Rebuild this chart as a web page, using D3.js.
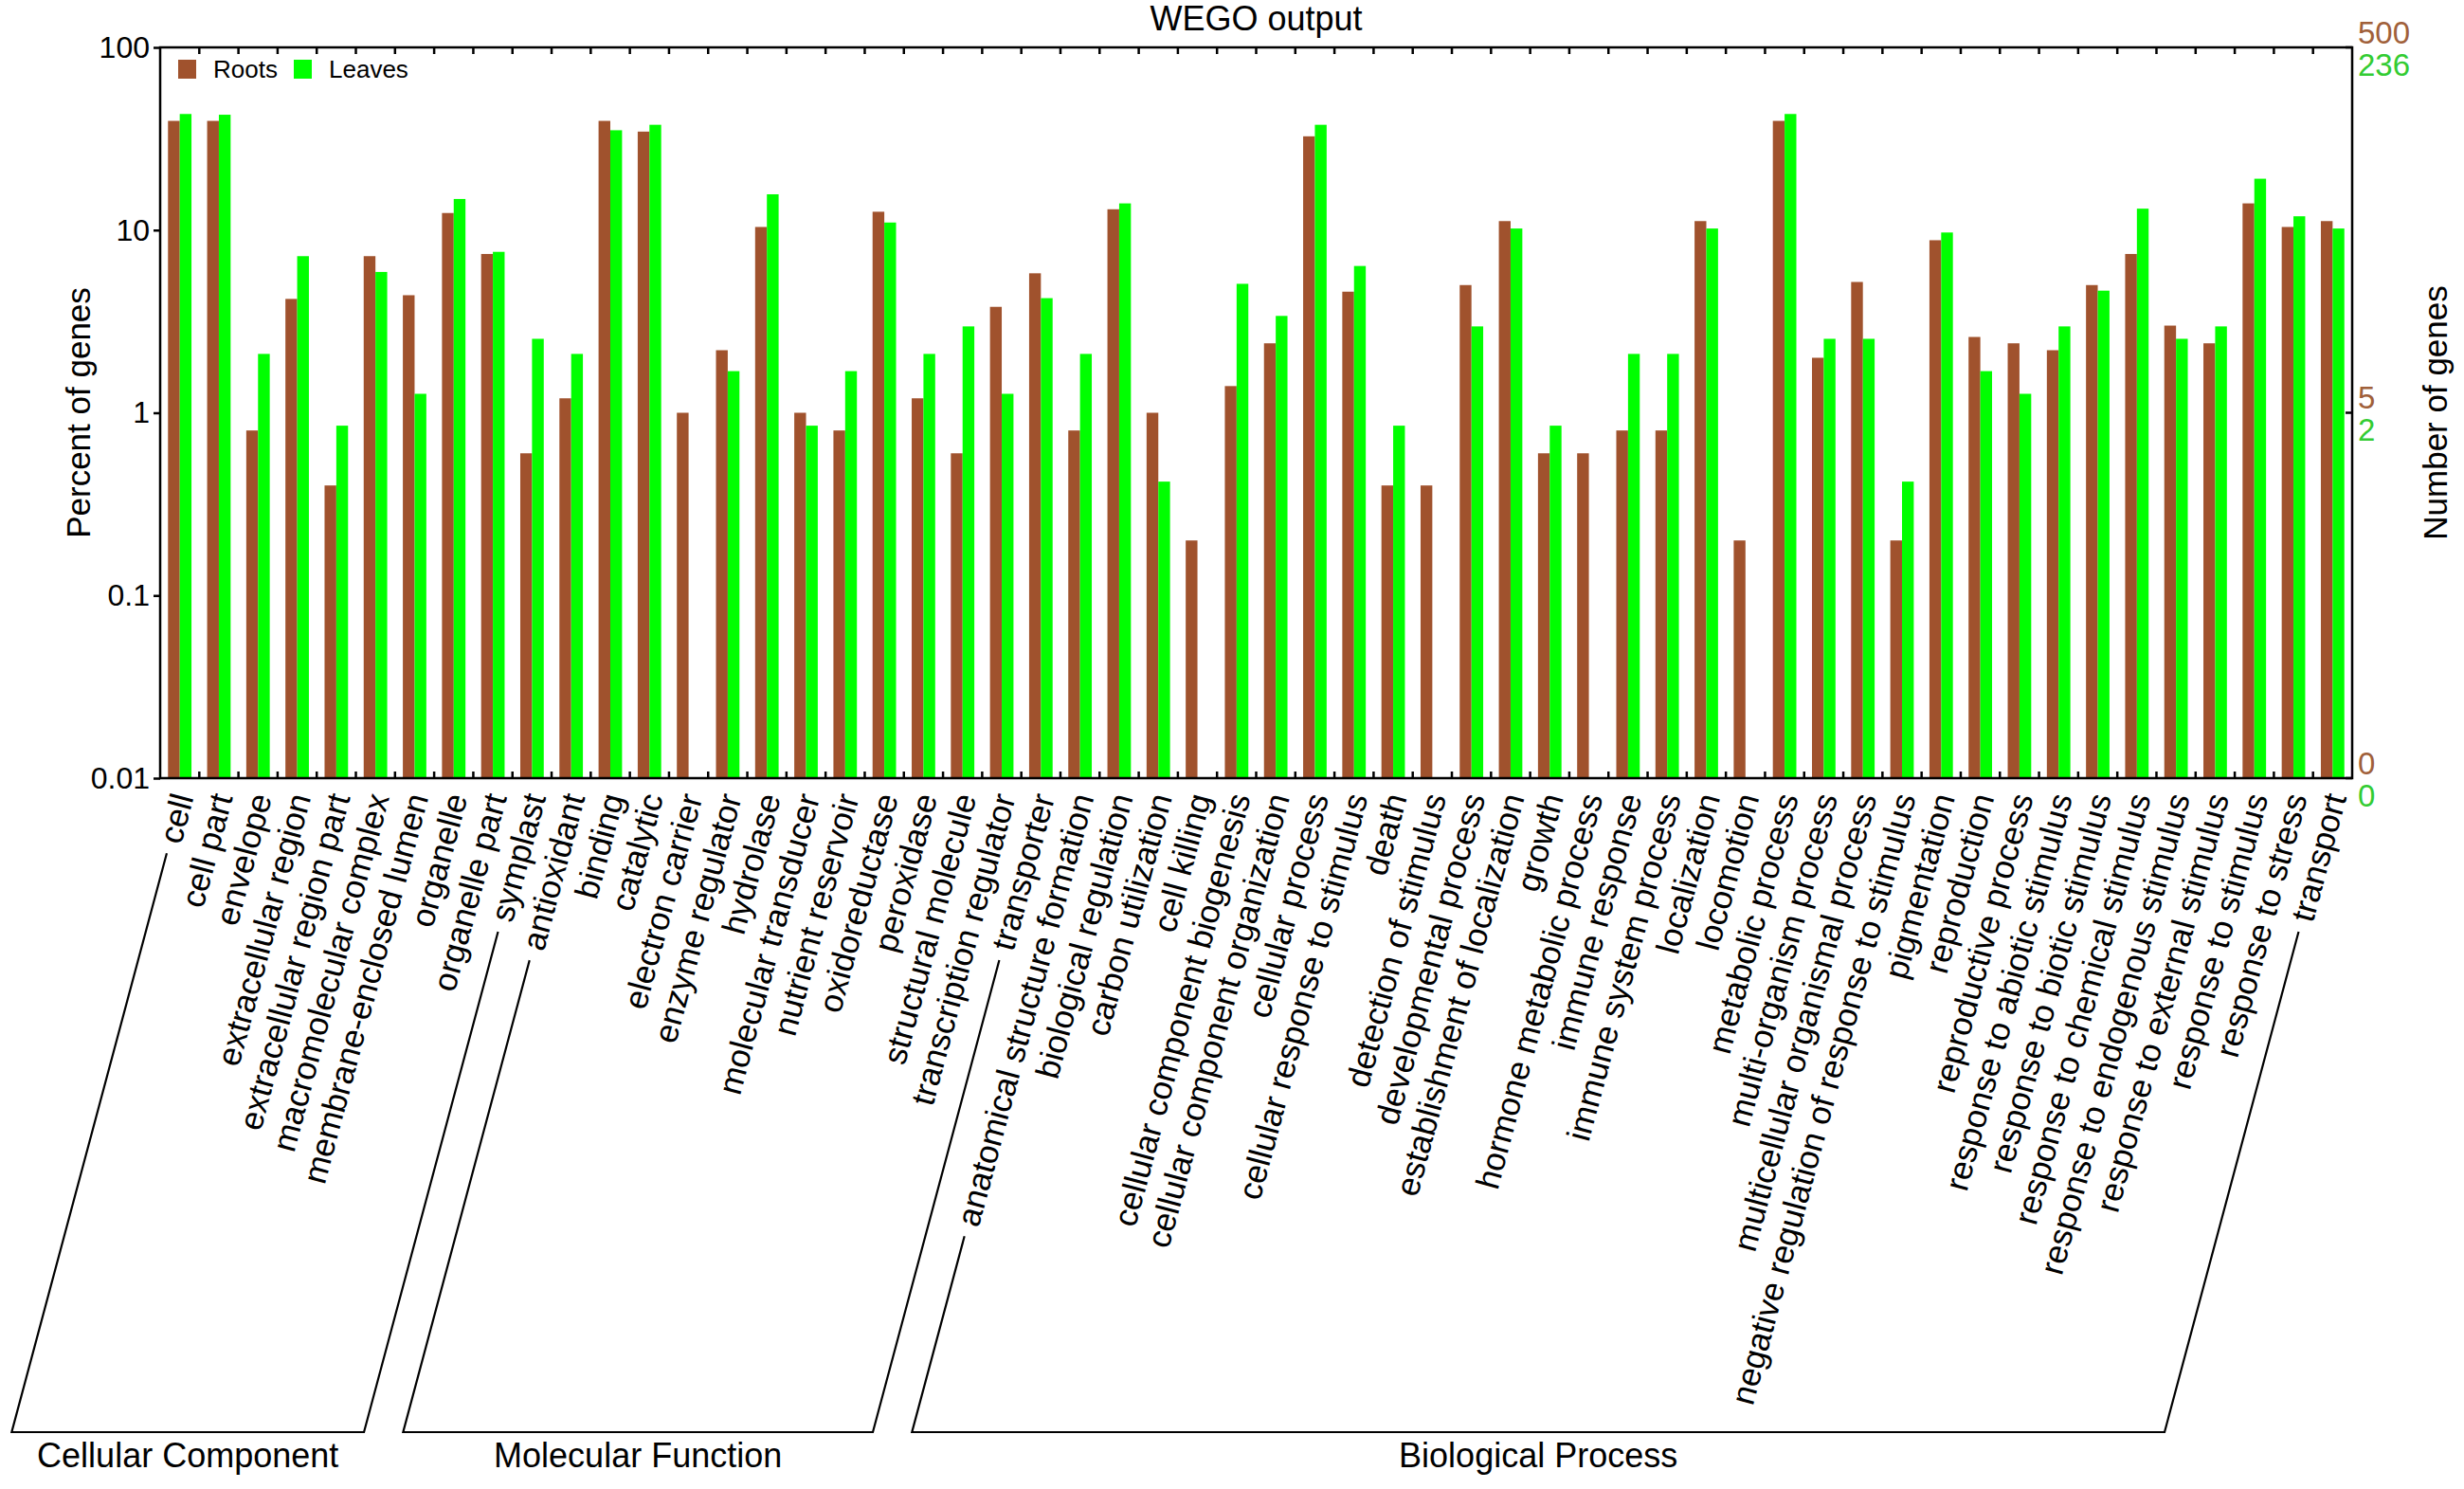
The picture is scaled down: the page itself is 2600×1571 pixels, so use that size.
<!DOCTYPE html>
<html>
<head>
<meta charset="utf-8">
<script src="https://cdn.jsdelivr.net/npm/d3@7/dist/d3.min.js"></script>
<style>
  html, body { margin: 0; padding: 0; background: #fff; }
  svg { display: block; font-family: "Liberation Sans", Arial, Helvetica, sans-serif; }
</style>
</head>
<body>
<svg id="chart" width="2600" height="1571"></svg>
<script>
// ---------------- data ----------------
const categories = [
  "cell", "cell part", "envelope", "extracellular region", "extracellular region part",
  "macromolecular complex", "membrane-enclosed lumen", "organelle", "organelle part", "symplast",
  "antioxidant", "binding", "catalytic", "electron carrier", "enzyme regulator", "hydrolase",
  "molecular transducer", "nutrient reservoir", "oxidoreductase", "peroxidase",
  "structural molecule", "transcription regulator", "transporter",
  "anatomical structure formation", "biological regulation", "carbon utilization", "cell killing",
  "cellular component biogenesis", "cellular component organization", "cellular process",
  "cellular response to stimulus", "death", "detection of stimulus", "developmental process",
  "establishment of localization", "growth", "hormone metabolic process", "immune response",
  "immune system process", "localization", "locomotion", "metabolic process",
  "multi-organism process", "multicellular organismal process",
  "negative regulation of response to stimulus", "pigmentation", "reproduction",
  "reproductive process", "response to abiotic stimulus", "response to biotic stimulus",
  "response to chemical stimulus", "response to endogenous stimulus",
  "response to external stimulus", "response to stimulus", "response to stress", "transport"
];

// percent of genes (null = no bar)
const roots = [
  39.6, 39.6, 0.8, 4.2, 0.4, 7.2, 4.4, 12.4, 7.4, 0.6,
  1.2, 39.6, 34.6, 1.0, 2.2, 10.4, 1.0, 0.8, 12.6, 1.2, 0.6, 3.8, 5.8,
  0.8, 13.0, 1.0, 0.2, 1.4, 2.4, 32.6, 4.6, 0.4, 0.4, 5.0, 11.2, 0.6, 0.6, 0.8, 0.8,
  11.2, 0.2, 39.6, 2.0, 5.2, 0.2, 8.8, 2.6, 2.4, 2.2, 5.0, 7.4, 3.0, 2.4, 14.0, 10.4, 11.2
];
const leaves = [
  43.2, 42.8, 2.1, 7.2, 0.85, 5.9, 1.27, 14.8, 7.6, 2.54,
  2.1, 35.2, 37.7, null, 1.69, 15.7, 0.85, 1.69, 11.0, 2.1, 2.97, 1.27, 4.24,
  2.1, 14.0, 0.42, null, 5.08, 3.39, 37.7, 6.36, 0.85, null, 2.97, 10.2, 0.85, null, 2.1, 2.1,
  10.2, null, 43.2, 2.54, 2.54, 0.42, 9.7, 1.69, 1.27, 2.97, 4.66, 13.1, 2.54, 2.97, 19.1, 11.9, 10.2
];

const seriesNames = ["Roots", "Leaves"];
const groupNames = ["Cellular Component", "Molecular Function", "Biological Process"];
const groupSizes = [10, 13, 33];

const leftTickValues = [100, 10, 1, 0.1, 0.01];
const leftTickLabels = ["100", "10", "1", "0.1", "0.01"];
const rightTickValues = [100, 1, 0.01];
const rootsTickLabels = ["500", "5", "0"];
const leavesTickLabels = ["236", "2", "0"];

// ---------------- layout ----------------
const C_ROOT = "#a0522d", C_LEAF = "#00ff00";
const C_ROOT_TXT = "#a0603a", C_LEAF_TXT = "#33cc33";
const L = 169, R = 2482, T = 50, B = 821;
const ANG = 75, rad = ANG * Math.PI / 180;
const LABEL_Y = 838, BRACKET_Y = 1511;

const svg = d3.select("#chart");

const x = d3.scaleBand().domain(categories).range([L, R]).paddingInner(0.4).paddingOuter(0.2);
const xs = d3.scaleBand().domain(seriesNames).range([0, x.bandwidth()]);
const y = d3.scaleLog().domain([0.01, 100]).range([B, T]);

const rows = categories.map((c, i) => ({ c, vals: [roots[i], leaves[i]] }));

// bars
const g = svg.append("g");
g.selectAll("g.cat").data(rows).join("g").attr("class", "cat")
  .attr("transform", d => `translate(${x(d.c)},0)`)
  .selectAll("rect").data(d => d.vals.map((v, k) => ({ v, k })).filter(e => e.v != null))
  .join("rect")
  .attr("x", e => xs(seriesNames[e.k]))
  .attr("width", xs.bandwidth())
  .attr("y", e => y(e.v))
  .attr("height", e => B - y(e.v))
  .attr("fill", e => e.k === 0 ? C_ROOT : C_LEAF);

// frame
svg.append("rect").attr("x", L).attr("y", T).attr("width", R - L).attr("height", B - T)
  .attr("fill", "none").attr("stroke", "#000").attr("stroke-width", 2.5);

// category boundary ticks (top & bottom, inward)
const step = x.step();
const bounds = d3.range(1, categories.length).map(k => L + k * step);
svg.append("g").selectAll("line.tt").data(bounds).join("line")
  .attr("x1", d => d).attr("x2", d => d).attr("y1", T).attr("y2", T + 7)
  .attr("stroke", "#000").attr("stroke-width", 2.5);
svg.append("g").selectAll("line.bt").data(bounds).join("line")
  .attr("x1", d => d).attr("x2", d => d).attr("y1", B).attr("y2", B - 7)
  .attr("stroke", "#000").attr("stroke-width", 2.5);

// left axis
const leftAxis = d3.axisLeft(y).tickValues(leftTickValues)
  .tickFormat((d, i) => leftTickLabels[i]).tickSize(7).tickPadding(4);
const la = svg.append("g").attr("transform", `translate(${L},0)`).call(leftAxis);
la.select(".domain").remove();
la.selectAll(".tick line").attr("stroke", "#000").attr("stroke-width", 2.5);
la.selectAll(".tick text").attr("font-size", 32).attr("fill", "#000")
  .attr("font-family", "'Liberation Sans', Arial, sans-serif");

// right axis (two coloured label sets)
const ra = svg.append("g");
ra.selectAll("line").data(rightTickValues).join("line")
  .attr("x1", R - 7).attr("x2", R).attr("y1", d => y(d)).attr("y2", d => y(d))
  .attr("stroke", "#000").attr("stroke-width", 2.5);
ra.selectAll("text.rt").data(rightTickValues).join("text").attr("class", "rt")
  .attr("x", R + 6).attr("y", d => y(d) - 16).attr("dominant-baseline", "central")
  .attr("font-size", 33).attr("fill", C_ROOT_TXT).text((d, i) => rootsTickLabels[i]);
ra.selectAll("text.lt").data(rightTickValues).join("text").attr("class", "lt")
  .attr("x", R + 6).attr("y", d => y(d) + 18).attr("dominant-baseline", "central")
  .attr("font-size", 33).attr("fill", C_LEAF_TXT).text((d, i) => leavesTickLabels[i]);

// titles
svg.append("text").attr("x", (L + R) / 2).attr("y", 32).attr("text-anchor", "middle")
  .attr("font-size", 36).text("WEGO output");
svg.append("text").attr("transform", `translate(95,${(T + B) / 2}) rotate(-90)`)
  .attr("text-anchor", "middle").attr("font-size", 35).text("Percent of genes");
svg.append("text").attr("transform", `translate(2582,${(T + B) / 2}) rotate(-90)`)
  .attr("text-anchor", "middle").attr("font-size", 35).text("Number of genes");

// legend
const leg = svg.append("g");
const legX = [188, 310];
seriesNames.forEach((s, k) => {
  leg.append("rect").attr("x", legX[k]).attr("y", 63).attr("width", 19).attr("height", 20)
    .attr("fill", k === 0 ? C_ROOT : C_LEAF);
  leg.append("text").attr("x", legX[k] + 37).attr("y", 73).attr("dominant-baseline", "central")
    .attr("font-size", 26).text(s);
});

// category labels
const anchorX = c => x(c) + x.bandwidth() / 2 + 3;
const labels = svg.append("g").selectAll("text").data(categories).join("text")
  .attr("transform", c => `translate(${anchorX(c)},${LABEL_Y}) rotate(${-ANG})`)
  .attr("text-anchor", "end").attr("dy", "0.35em").attr("font-size", 35).text(c => c);

const lenOf = {};
labels.each(function (c) { lenOf[c] = this.getComputedTextLength(); });

// group brackets
const dx = -Math.cos(rad), dy = Math.sin(rad);
let start = 0;
const br = svg.append("g").attr("stroke", "#000").attr("stroke-width", 2.2).attr("fill", "none");
groupNames.forEach((name, gi) => {
  const first = categories[start], last = categories[start + groupSizes[gi] - 1];
  const ends = [first, last].map(c => {
    const ax = anchorX(c), ay = LABEL_Y;
    const d0 = lenOf[c] + 12;
    const top = [ax + dx * d0, ay + dy * d0];
    const t = (BRACKET_Y - ay) / dy;
    const bot = [ax + dx * t, BRACKET_Y];
    return { top, bot };
  });
  br.append("path").attr("d", d3.line()([ends[0].top, ends[0].bot, ends[1].bot, ends[1].top]));
  svg.append("text").attr("x", (ends[0].bot[0] + ends[1].bot[0]) / 2).attr("y", 1548)
    .attr("text-anchor", "middle").attr("font-size", 36).text(name);
  start += groupSizes[gi];
});
</script>
</body>
</html>
